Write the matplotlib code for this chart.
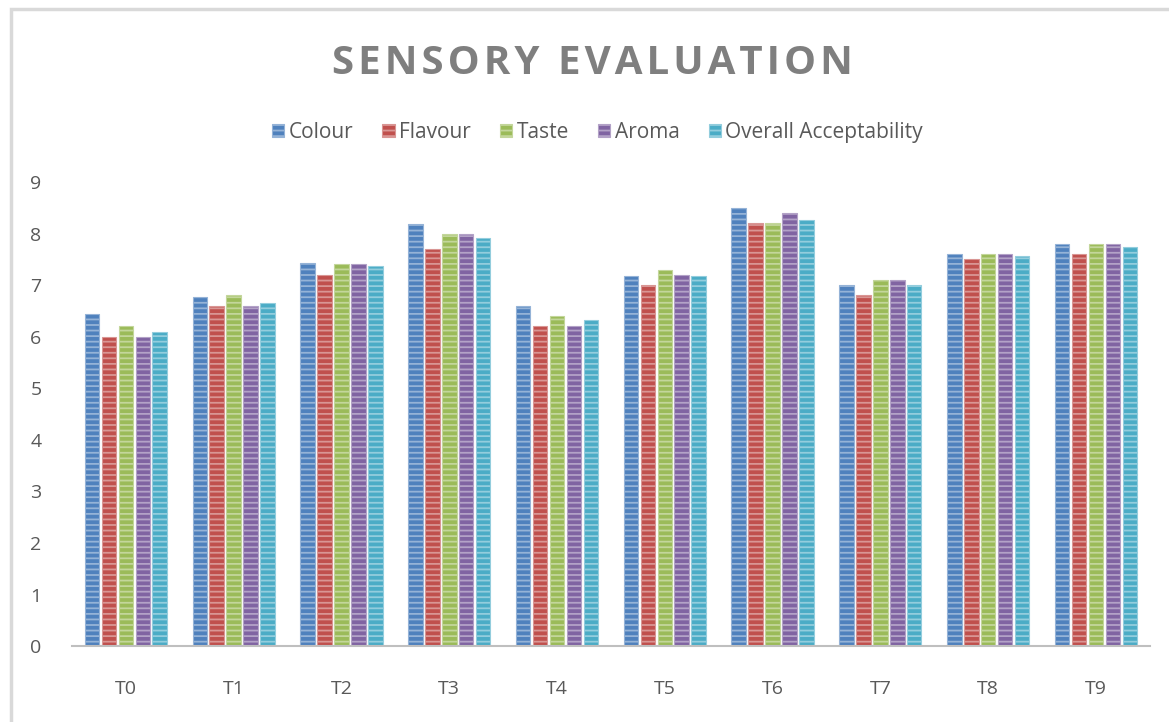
import numpy as np
import matplotlib
matplotlib.use("Agg")
import matplotlib.pyplot as plt
from matplotlib.patches import Rectangle
from matplotlib.colors import to_rgb

# ── Data ────────────────────────────────────────────────────────────────────
treatments = ["T0", "T1", "T2", "T3", "T4", "T5", "T6", "T7", "T8", "T9"]
series_names = ["Colour", "Flavour", "Taste", "Aroma", "Overall Acceptability"]
colour = [6.44, 6.77, 7.43, 8.18, 6.6, 7.18, 8.5, 7.0, 7.6, 7.8]
flavour = [6.0, 6.6, 7.2, 7.7, 6.2, 7.0, 8.2, 6.8, 7.5, 7.6]
taste = [6.2, 6.8, 7.4, 8.0, 6.4, 7.3, 8.2, 7.1, 7.6, 7.8]
aroma = [6.0, 6.6, 7.4, 8.0, 6.2, 7.2, 8.4, 7.1, 7.6, 7.8]
overall = [6.1, 6.66, 7.37, 7.92, 6.32, 7.17, 8.27, 7.0, 7.56, 7.74]
yticks = list(range(0, 10))

series = [colour, flavour, taste, aroma, overall]
colors = ["#4F81BD", "#C0504D", "#9BBB59", "#8064A2", "#4BACC6"]

plt.rcParams["font.family"] = ["Open Sans", "DejaVu Sans"]
plt.rcParams["hatch.linewidth"] = 1.3

fig = plt.figure(figsize=(11.69, 7.22), dpi=100)
ax = fig.add_axes([0.0616, 0.105, 0.922, 0.643])

# outer chart frame
fig.patches.append(Rectangle((0.009, -0.01), 1.0, 0.997, transform=fig.transFigure,
                             fill=False, edgecolor="#D9D9D9", linewidth=2.5))


def lighten(c, f=0.45):
    r, g, b = to_rgb(c)
    return (r + (1 - r) * f, g + (1 - g) * f, b + (1 - b) * f)


x = np.arange(len(treatments))
step = 0.157
width = 0.135
for k, (name, vals, col) in enumerate(zip(series_names, series, colors)):
    off = (k - 2) * step
    ax.bar(x + off, vals, width, color=col, edgecolor=lighten(col, 0.4), linewidth=0.8,
           hatch="---", label=name, zorder=2)

ax.set_xlim(-0.5, len(treatments) - 0.5)
ax.set_ylim(0, 9)
ax.set_yticks(yticks)
ax.set_xticks(x)
ax.set_xticklabels(treatments)
ax.tick_params(axis="y", length=0, pad=22, labelsize=14, labelcolor="#595959")
ax.tick_params(axis="x", length=0, pad=24, labelsize=14, labelcolor="#595959")
for s in ["top", "right", "left"]:
    ax.spines[s].set_visible(False)
ax.spines["bottom"].set_color("#BFBFBF")
ax.spines["bottom"].set_linewidth(1.5)

title = "\u200a".join("SENSORY EVALUATION")
fig.text(0.507, 0.912, title, ha="center", va="center",
         fontsize=29, fontweight="bold", color="#7F7F7F")

leg = fig.legend(loc="center", bbox_to_anchor=(0.511, 0.817), ncol=5, frameon=False,
                 fontsize=15, handlelength=0.6, handleheight=0.6, handletextpad=0.2,
                 columnspacing=1.4)
for t in leg.get_texts():
    t.set_color("#595959")

fig.savefig("out.png", dpi=100)
